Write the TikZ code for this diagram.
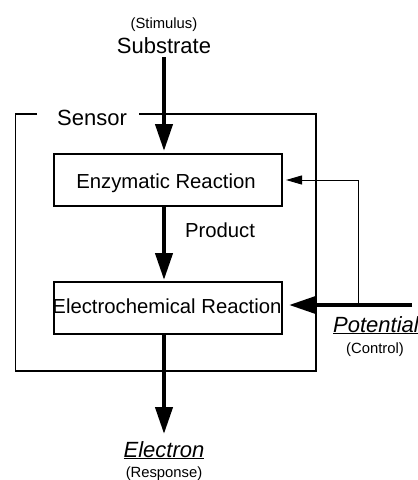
\documentclass[tikz,border=0pt]{standalone}
\usepackage{fontspec}
\setmainfont{Liberation Sans}
\usetikzlibrary{arrows.meta}
\begin{document}
\begin{tikzpicture}[x=1pt,y=-1pt,
  big/.style={font=\fontsize{22}{24}\selectfont, inner sep=0pt, anchor=base},
  mid/.style={font=\fontsize{20.3}{22}\selectfont, inner sep=0pt, anchor=base},
  small/.style={font=\fontsize{14.8}{16}\selectfont, inner sep=0pt, anchor=base},
  stagebox/.style={draw, line width=1.1pt, minimum width=228pt, minimum height=52pt, inner sep=0pt},
  thickarrow/.style={line width=4.2pt, -{Triangle[width=17pt,length=27pt]}},
  thinarrow/.style={line width=1pt, -{Triangle[width=9pt,length=16pt]}},
  frame/.style={line width=1.8pt}]
\useasboundingbox (0,0) rectangle (418,480);
% labels
\node[small] (stim) at (164,28) {(Stimulus)};
\node[big] (subs) at (164,53) {Substrate};
\node[big] (sensor) at (92,125) {Sensor};
\node[mid] (prod) at (220,237) {Product};
\node[big] (pot) at (376,332) {\itshape\underline{Potential}};
\node[small] (ctrl) at (375,353) {(Control)};
\node[big] (elec) at (164,457) {\itshape\underline{Electron}};
\node[small] (resp) at (164,477) {(Response)};
% boxes
\node[stagebox] (enz) at (168,180) {};
\node[mid] at (166,188) {Enzymatic Reaction};
\node[stagebox] (ech) at (168,308) {};
\node[mid] at (167,313) {Electrochemical Reaction};
% sensor frame
\coordinate (f1) at (37,114);
\coordinate (f2) at (15.5,114);
\coordinate (f3) at (15.5,371);
\coordinate (f4) at (316,371);
\coordinate (f5) at (316,114);
\coordinate (f6) at (139,114);
\draw[frame] (f1) -- (f2) -- (f3) -- (f4) -- (f5) -- (f6);
% arrows
\coordinate (s0) at (164,57);
\coordinate (s1) at (164,151);
\draw[thickarrow] (s0) -- (s1);
\coordinate (p0) at (164,206);
\coordinate (p1) at (164,280);
\draw[thickarrow] (p0) -- (p1);
\coordinate (e0) at (164,334);
\coordinate (e1) at (164,434);
\draw[thickarrow] (e0) -- (e1);
\coordinate (v0) at (412,305);
\coordinate (v1) at (289,305);
\draw[thickarrow] (v0) -- (v1);
\coordinate (t0) at (358,305);
\coordinate (t1) at (358,180);
\coordinate (t2) at (286,180);
\draw[thinarrow] (t0) -- (t1) -- (t2);
\end{tikzpicture}
\end{document}
